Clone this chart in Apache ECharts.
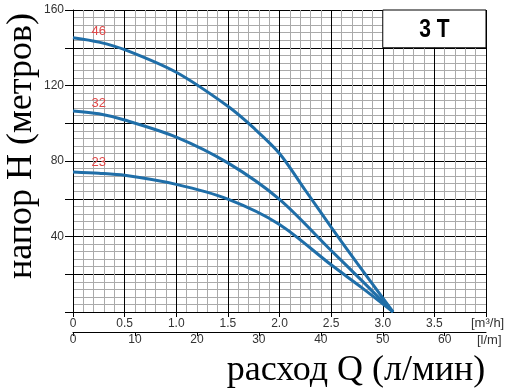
<!DOCTYPE html>
<html>
<head>
<meta charset="utf-8">
<script src="https://cdn.jsdelivr.net/npm/echarts@6/dist/echarts.min.js"></script>
<style>
html,body{margin:0;padding:0;background:#fff;}
#c{width:511px;height:392px;}
</style>
</head>
<body>
<div id="c"></div>
<script>
// Flow Q in m3/h, head H in metres
const curve46 = [[0,145.3],[0.25,143],[0.5,139],[1.0,127],[1.5,109],[1.75,97.5],[2.0,84],[2.25,64.5],[2.5,45],[2.75,26],[3.1,0]];
const curve32 = [[0,106.5],[0.25,105],[0.5,101.7],[1.0,92.7],[1.5,79],[2.0,59.7],[2.5,32.6],[2.8,16.5],[3.1,0]];
const curve23 = [[0,74.2],[0.25,73.5],[0.5,72.4],[1.0,67.6],[1.5,59.8],[2.0,46.4],[2.5,25],[2.8,12.8],[3.1,0]];
const curveNames = ['46','32','23'];
const yLabels = [40,80,120,160];
const title = '3 T';
const yName = 'напор H (метров)';
const xName = 'расход Q (л/мин)';
const unitM3 = '[m³/h]';
const unitLm = '[l/m]';

const chart = echarts.init(document.getElementById('c'), null, {renderer:'canvas'});
const lineColor = '#1f6ea8';
const tickFont = {fontFamily:'Liberation Sans', fontSize:12, color:'#333'};

function mkSeries(name, data){
  return {
    type:'line', name:name, data:data, smooth:0.3, symbol:'none', showSymbol:false,
    xAxisIndex:0, yAxisIndex:0,
    lineStyle:{color:lineColor, width:3},
    label:{show:false},
    markPoint:{
      symbol:'circle', symbolSize:0,
      data:[{coord:data[1], value:name}],
      label:{show:true, position:'top', distance:4, formatter:name,
             color:'#e04848', fontFamily:'Liberation Sans', fontSize:13}
    }
  };
}

chart.setOption({
  animation:false,
  backgroundColor:'#fff',
  grid:{left:73, right:25, top:10, bottom:80, show:false},
  xAxis:[{
    type:'value', min:0, max:4, interval:0.5, position:'bottom',
    axisLine:{show:true, onZero:false, lineStyle:{color:'#000', width:1}},
    axisTick:{show:true, length:5, lineStyle:{color:'#000'}},
    axisLabel:Object.assign({margin:6, showMaxLabel:false,
      formatter:v=> v===0 ? '0' : v.toFixed(1)}, tickFont),
    splitLine:{show:true, lineStyle:{color:'#000', width:1}},
    minorTick:{show:true, splitNumber:5, length:0},
    minorSplitLine:{show:true, lineStyle:{color:'#aaaaaa', width:1}}
  },{
    type:'value', min:0, max:200/3, interval:10, position:'bottom', offset:20,
    axisLine:{show:true, onZero:false, lineStyle:{color:'#000', width:1}},
    axisTick:{show:true, length:4, lineStyle:{color:'#000'}},
    axisLabel:Object.assign({margin:2, showMaxLabel:false,
      formatter:v=> Math.abs(v-Math.round(v))<1e-6 && v<=60 ? String(Math.round(v)) : ''}, tickFont),
    splitLine:{show:false}
  }],
  yAxis:{
    type:'value', min:0, max:160, interval:20,
    axisLine:{show:true, lineStyle:{color:'#000', width:1}},
    axisTick:{show:true, length:8, lineStyle:{color:'#000'}},
    axisLabel:Object.assign({margin:9,
      formatter:v=> yLabels.indexOf(v)>=0 ? String(v) : ''}, tickFont),
    splitLine:{show:true, lineStyle:{color:'#000', width:1}},
    minorTick:{show:true, splitNumber:5, length:0},
    minorSplitLine:{show:true, lineStyle:{color:'#aaaaaa', width:1}}
  },
  series:[mkSeries(curveNames[0], curve46), mkSeries(curveNames[1], curve32), mkSeries(curveNames[2], curve23)]
});

// decorations positioned from the axes
const p0 = chart.convertToPixel({xAxisIndex:0, yAxisIndex:0}, [3.0,160]);
const p1 = chart.convertToPixel({xAxisIndex:0, yAxisIndex:0}, [4.0,140]);
const pEnd = chart.convertToPixel({xAxisIndex:0, yAxisIndex:0}, [4.0,0]);
chart.setOption({
  graphic:[
    {type:'rect', z:100, shape:{x:p0[0], y:p0[1], width:p1[0]-p0[0], height:p1[1]-p0[1]},
     style:{fill:'#fff', stroke:'#000', lineWidth:1}},
    {type:'text', z:101, x:(p0[0]+p1[0])/2, y:(p0[1]+p1[1])/2+1, scaleY:1.25,
     style:{text:title, fontFamily:'Liberation Sans', fontWeight:'bold', fontSize:21,
            fill:'#000', align:'center', verticalAlign:'middle'}},
    {type:'text', z:101, x:pEnd[0]-15, y:pEnd[1]+11,
     style:{text:unitM3, fontFamily:'Liberation Sans', fontSize:13, fill:'#333', align:'left', verticalAlign:'middle'}},
    {type:'text', z:101, x:pEnd[0]-9, y:pEnd[1]+28,
     style:{text:unitLm, fontFamily:'Liberation Sans', fontSize:13, fill:'#333', align:'left', verticalAlign:'middle'}},
    {type:'text', z:101, x:22, y:146, rotation:Math.PI/2,
     style:{text:yName, fontFamily:'Liberation Serif', fontSize:36, fill:'#000', align:'center', verticalAlign:'middle'}},
    {type:'text', z:101, x:356, y:371,
     style:{text:xName, fontFamily:'Liberation Serif', fontSize:36, fill:'#000', align:'center', verticalAlign:'middle'}}
  ]
});
</script>
</body>
</html>
